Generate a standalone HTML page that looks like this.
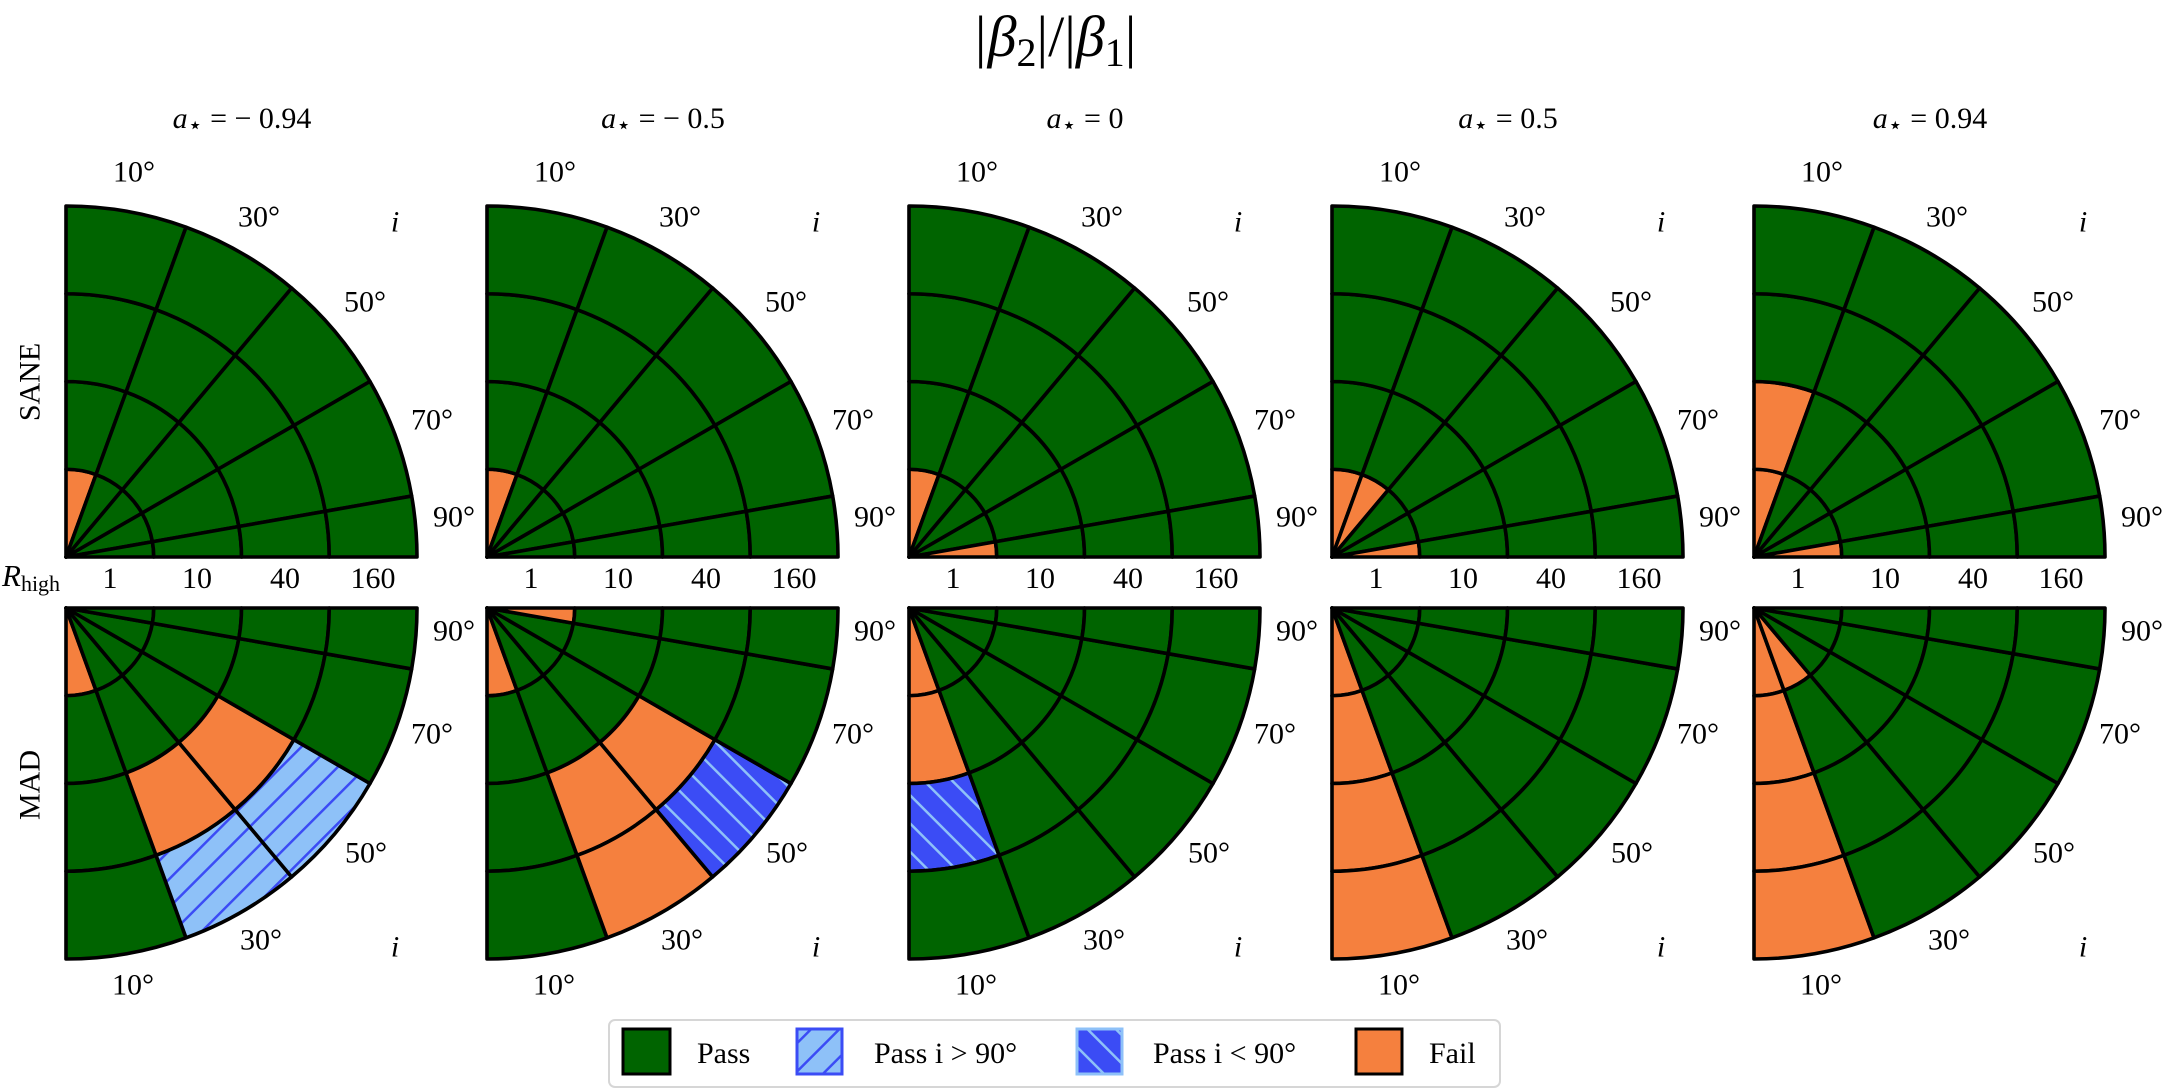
<!DOCTYPE html>
<html><head><meta charset="utf-8">
<style>
html,body{margin:0;padding:0;background:#fff;}
svg{display:block;}
text{font-family:"Liberation Serif","DejaVu Serif",serif;fill:#000;}
</style></head>
<body>
<svg id="s" width="2167" height="1089" viewBox="0 0 2167 1089" xmlns="http://www.w3.org/2000/svg">
<defs>
<pattern id="hL" patternUnits="userSpaceOnUse" width="20" height="20" patternTransform="rotate(45)">
<rect width="20" height="20" fill="#8ec1f8"/><rect x="0" y="0" width="2.5" height="20" fill="#3b4cf5"/>
</pattern>
<pattern id="hD" patternUnits="userSpaceOnUse" width="20" height="20" patternTransform="rotate(-45)">
<rect width="20" height="20" fill="#3b4cf5"/><rect x="0" y="0" width="2.5" height="20" fill="#8ec1f8"/>
</pattern>
</defs>
<text x="1054" y="56" font-size="58" text-anchor="middle"><tspan font-style="italic">|β</tspan><tspan font-size="40" dy="10">2</tspan><tspan dy="-10">|/|</tspan><tspan font-style="italic">β</tspan><tspan font-size="40" dy="10">1</tspan><tspan dy="-10">|</tspan></text>
<text x="30" y="382" font-size="30" text-anchor="middle" dominant-baseline="central" transform="rotate(-90 30 382)">SANE</text>
<text x="30" y="785" font-size="30" text-anchor="middle" dominant-baseline="central" transform="rotate(-90 30 785)">MAD</text>
<text x="2" y="586" font-size="31"><tspan font-style="italic">R</tspan><tspan font-size="22" dy="5">high</tspan></text>
<g id="panels"></g>
<rect x="609" y="1020" width="891" height="67" rx="6" fill="#fff" stroke="#d6d6d6" stroke-width="2"/>
<rect x="623" y="1029" width="47" height="45" fill="#006400" stroke="#000" stroke-width="3"/>
<text x="697" y="1063" font-size="30">Pass</text>
<rect x="797" y="1029" width="45" height="45" fill="url(#hL)" stroke="#3b4cf5" stroke-width="3"/>
<text x="874" y="1063" font-size="30">Pass i &gt; 90°</text>
<rect x="1077" y="1029" width="45" height="45" fill="url(#hD)" stroke="#8ec1f8" stroke-width="3"/>
<text x="1153" y="1063" font-size="30">Pass i &lt; 90°</text>
<rect x="1356" y="1029" width="46" height="45" fill="#f5803e" stroke="#000" stroke-width="3"/>
<text x="1429" y="1063" font-size="30">Fail</text>
</svg>
<script>
(function(){
var g=document.getElementById("panels");
var lefts=[66,487,909,1332,1754];
var titles=["\u2212 0.94","\u2212 0.5","0","0.5","0.94"];
var A=[0,20,40,60,80,90], R=[0,87.75,175.5,263.25,351];
var data=[
 {t:{"0,0":"O"}, b:{"0,0":"O","2,1":"O","2,2":"O","3,1":"L","3,2":"L"}},
 {t:{"0,0":"O"}, b:{"0,4":"O","0,0":"O","2,1":"O","3,1":"O","2,2":"O","3,2":"D"}},
 {t:{"0,0":"O","0,4":"O"}, b:{"0,0":"O","1,0":"O","2,0":"D"}},
 {t:{"0,0":"O","0,1":"O","0,4":"O"}, b:{"0,0":"O","1,0":"O","2,0":"O","3,0":"O"}},
 {t:{"0,0":"O","1,0":"O","0,4":"O"}, b:{"0,0":"O","1,0":"O","2,0":"O","3,0":"O","0,1":"O"}}
];
var col={O:"#f5803e",L:"url(#hL)",D:"url(#hD)"};
var html="";
function pt(cx,cy,s,r,a){var t=a*Math.PI/180;return [(cx+r*Math.sin(t)).toFixed(2),(cy+s*r*Math.cos(t)).toFixed(2)];}
function cell(cx,cy,s,ri,ai){
 var r0=R[ri],r1=R[ri+1],a0=A[ai],a1=A[ai+1];
 var sw=(s<0)?1:0; var sw2=1-sw;
 var p1=pt(cx,cy,s,r1,a0),p2=pt(cx,cy,s,r1,a1),p3=pt(cx,cy,s,r0,a1),p4=pt(cx,cy,s,r0,a0);
 var d="M"+p1+" A"+r1+","+r1+" 0 0 "+sw+" "+p2+" L"+p3;
 if(r0>0) d+=" A"+r0+","+r0+" 0 0 "+sw2+" "+p4;
 return d+" Z";
}
for(var p=0;p<5;p++){
 var L=lefts[p];
 html+='<text x="'+(L+176)+'" y="128" font-size="30" text-anchor="middle"><tspan font-style="italic">a</tspan><tspan font-size="24" dy="5">\u22c6</tspan><tspan dy="-5"> = '+titles[p]+'</tspan></text>';
 [[557,-1,"t"],[608,1,"b"]].forEach(function(q){
  var cy=q[0],s=q[1],m=data[p][q[2]];
  for(var ri=0;ri<4;ri++)for(var ai=0;ai<5;ai++){
   var k=ri+","+ai; var f=m[k]?col[m[k]]:"#006400";
   html+='<path d="'+cell(L,cy,s,ri,ai)+'" fill="'+f+'" stroke="#000" stroke-width="3.6" stroke-linejoin="round"/>';
  }
  var labs=s<0?[["10°",68,-385],["30°",193,-340],["50°",299,-255],["70°",366,-137],["90°",388,-40]]:[["10°",67,377],["30°",195,332],["50°",300,245],["70°",366,126],["90°",388,23]];
  labs.forEach(function(l){html+='<text x="'+(L+l[1])+'" y="'+(cy+l[2])+'" font-size="30" text-anchor="middle" dominant-baseline="central">'+l[0]+'</text>';});
  html+='<text x="'+(L+329)+'" y="'+(cy+(s<0?-335:339))+'" font-size="30" font-style="italic" text-anchor="middle" dominant-baseline="central">i</text>';
 });
 var tk=["1","10","40","160"],tx=[44,131,219,307];
 for(var j=0;j<4;j++) html+='<text x="'+(L+tx[j])+'" y="588" font-size="30" text-anchor="middle">'+tk[j]+'</text>';
}
g.innerHTML=html;
})();
</script>
</body></html>
